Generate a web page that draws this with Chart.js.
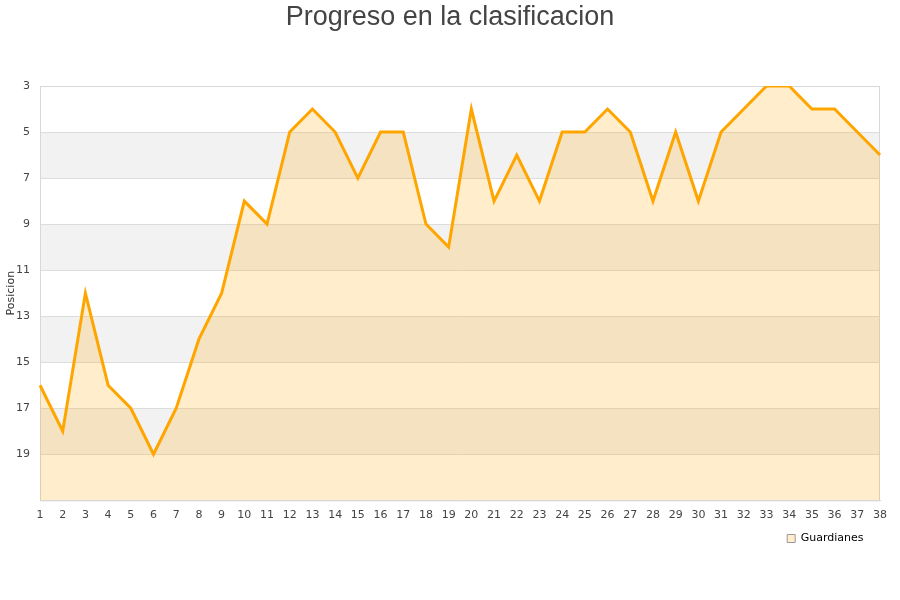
<!DOCTYPE html>
<html>
<head>
<meta charset="utf-8">
<script src="https://cdn.jsdelivr.net/npm/chart.js@4/dist/chart.umd.min.js"></script>
<style>
  html, body { margin: 0; padding: 0; background: #fff; }
  #wrap { width: 900px; height: 600px; }
</style>
</head>
<body>
<div id="wrap"><canvas id="chart"></canvas></div>
<script>
// jornadas 1..38
const jornadas = ['1','2','3','4','5','6','7','8','9','10','11','12','13','14','15','16','17','18','19',
  '20','21','22','23','24','25','26','27','28','29','30','31','32','33','34','35','36','37','38'];

// posicion de Guardianes por jornada
const posiciones = [16, 18, 12, 16, 17, 19, 17, 14, 12, 8, 9, 5, 4, 5, 7, 5, 5, 9, 10,
  4, 8, 6, 8, 5, 5, 4, 5, 8, 5, 8, 5, 4, 3, 3, 4, 4, 5, 6];

// bandas grises del fondo (desde, hasta)
const bandas = [[5, 7], [9, 11], [13, 15], [17, 19]];

// fondo con bandas alternas y marco del area
const bandsPlugin = {
  id: 'bands',
  afterLayout(chart) {
    // leyenda un poco separada del borde derecho
    const l = chart.legend;
    if (l) { l.right -= 13; l.width -= 13; }
  },
  beforeDraw(chart) {
    const { ctx, chartArea: a, scales: { y } } = chart;
    ctx.save();
    ctx.fillStyle = '#f2f2f2';
    bandas.forEach(([from, to]) => {
      const y1 = y.getPixelForValue(from);
      const y2 = y.getPixelForValue(to);
      ctx.fillRect(a.left, y1, a.right - a.left, y2 - y1);
    });
    ctx.restore();
  },
  beforeDatasetsDraw(chart) {
    const { ctx, chartArea: a } = chart;
    ctx.save();
    ctx.strokeStyle = '#d8d8d8';
    ctx.lineWidth = 1;
    ctx.strokeRect(a.left + 0.5, a.top + 0.5, a.right - a.left - 1, a.bottom - a.top);
    ctx.restore();
  }
};

new Chart(document.getElementById('chart'), {
  type: 'line',
  data: {
    labels: jornadas,
    datasets: [{
      label: 'Guardianes',
      data: posiciones,
      borderColor: '#ffa500',
      backgroundColor: 'rgba(255,165,0,0.2)',
      borderWidth: 3,
      fill: 'start',
      tension: 0,
      pointRadius: 0,
      pointHoverRadius: 0
    }]
  },
  options: {
    responsive: true,
    maintainAspectRatio: false,
    animation: false,
    layout: { padding: { left: 0, right: 0, top: 0, bottom: 46 } },
    plugins: {
      title: {
        display: true,
        text: 'Progreso en la clasificacion',
        color: '#444',
        font: { family: 'Liberation Sans', size: 27, weight: 'normal' },
        padding: { top: 1, bottom: 52.6 }
      },
      legend: {
        position: 'bottom',
        align: 'end',
        fullSize: false,
        labels: {
          color: '#000',
          font: { family: 'DejaVu Sans', size: 11 },
          boxWidth: 8,
          boxHeight: 8,
          padding: 3.5,
          generateLabels: chart => [{
            text: 'Guardianes',
            fillStyle: '#ffedcc',
            strokeStyle: '#999',
            lineWidth: 1,
            datasetIndex: 0
          }]
        }
      },
      tooltip: { enabled: false }
    },
    scales: {
      x: {
        type: 'category',
        offset: false,
        grid: { display: false, drawTicks: false },
        border: { color: '#d8d8d8' },
        ticks: {
          color: '#444',
          font: { family: 'DejaVu Sans', size: 11 },
          maxRotation: 0,
          autoSkip: false,
          padding: 8
        }
      },
      y: {
        reverse: true,
        min: 3,
        max: 21,
        afterFit: s => { s.width = 40; },
        grid: { color: '#dddddd', drawTicks: false },
        border: { color: '#d8d8d8' },
        title: {
          display: true,
          text: 'Posicion',
          color: '#333',
          font: { family: 'DejaVu Sans', size: 11 },
          padding: { top: 5, bottom: 0 }
        },
        ticks: {
          stepSize: 2,
          color: '#444',
          font: { family: 'DejaVu Sans', size: 11 },
          padding: 10,
          callback: v => (v === 21 ? '' : v)
        }
      },
      // margen derecho del area de trazado
      y2: {
        position: 'right',
        afterFit: s => { s.width = 20; },
        grid: { display: false },
        border: { display: false },
        ticks: { display: false }
      }
    }
  },
  plugins: [bandsPlugin]
});
</script>
</body>
</html>
